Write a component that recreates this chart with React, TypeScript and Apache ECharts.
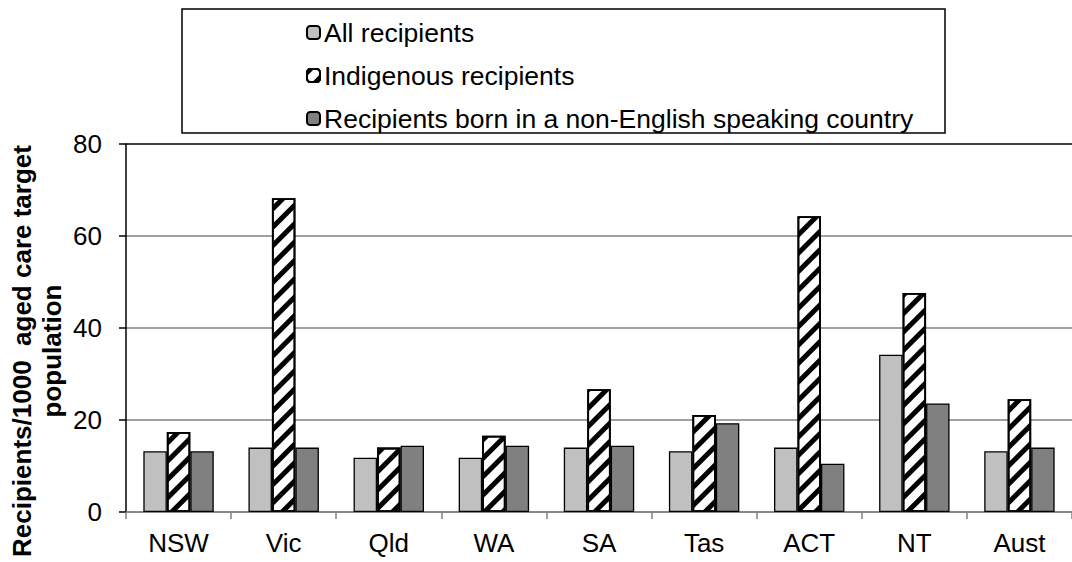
import React, { useEffect, useRef } from "react";
import * as echarts from "echarts";

const categories = ["NSW", "Vic", "Qld", "WA", "SA", "Tas", "ACT", "NT", "Aust"];
const allRecipients = [13.2, 14.0, 11.8, 11.8, 14.0, 13.2, 14.0, 34.2, 13.2];
const indigenousRecipients = [17.4, 68.2, 14.0, 16.6, 26.7, 21.1, 64.3, 47.6, 24.5];
const nesbRecipients = [13.2, 14.0, 14.4, 14.4, 14.4, 19.3, 10.5, 23.6, 14.0];
const seriesNames = [
  "All recipients",
  "Indigenous recipients",
  "Recipients born in a non-English speaking country",
];
const yTicks = [0, 20, 40, 60, 80];
const yTitle = "Recipients/1000  aged care target\npopulation";

const FONT = "Liberation Sans, Arial, sans-serif";

export default function App() {
  const ref = useRef<HTMLDivElement>(null);
  useEffect(() => {
    if (!ref.current) return;
    const chart = echarts.init(ref.current, undefined, { renderer: "svg" });
    const hatch = {
      symbol: "rect",
      symbolSize: 1,
      color: "#000000",
      backgroundColor: "#ffffff",
      dashArrayX: [1, 0],
      dashArrayY: [5, 8],
      rotation: -Math.PI / 4,
    };
    chart.setOption({
      animation: false,
      textStyle: { fontFamily: FONT },
      grid: { left: 126, top: 144, bottom: 50, right: -7, containLabel: false },
      legend: {
        orient: "vertical",
        left: 306,
        top: 19,
        itemWidth: 13,
        itemHeight: 13,
        itemGap: 16,
        padding: 0,
        textStyle: { fontSize: 26.5, color: "#000", fontFamily: FONT, padding: [0, 0, 0, -1] },
        data: seriesNames,
      },
      graphic: [
        {
          type: "rect",
          shape: { x: 182, y: 9, width: 763, height: 124 },
          style: { fill: "#fff", stroke: "#000", lineWidth: 1.5 },
          z: -1,
          silent: true,
        },
        {
          type: "text",
          x: 37,
          y: 351,
          rotation: Math.PI / 2,
          style: {
            text: yTitle,
            font: `bold 26px ${FONT}`,
            fill: "#000",
            align: "center",
            verticalAlign: "middle",
            lineHeight: 30,
          },
        },
      ],
      xAxis: {
        type: "category",
        data: categories,
        axisLine: { lineStyle: { color: "#808080", width: 1.5 } },
        axisTick: { show: true, length: 7, lineStyle: { color: "#808080", width: 1.5 } },
        axisLabel: { fontSize: 26, color: "#000", margin: 18, fontFamily: FONT },
      },
      yAxis: {
        type: "value",
        min: yTicks[0],
        max: yTicks[yTicks.length - 1],
        interval: 20,
        axisLine: { show: true, lineStyle: { color: "#000", width: 1.5 } },
        axisTick: { show: true, length: 7, lineStyle: { color: "#000", width: 1.5 } },
        axisLabel: { fontSize: 26, color: "#000", margin: 24, fontFamily: FONT },
        splitLine: {
          lineStyle: { color: ["#808080", "#808080", "#808080", "#808080", "#000000"], width: 1.5 },
        },
      },
      series: [
        {
          name: seriesNames[0],
          type: "bar",
          data: allRecipients,
          barGap: "0%",
          barCategoryGap: "33%",
          itemStyle: { color: "#c0c0c0", borderColor: "#000", borderWidth: 1.3 },
        },
        {
          name: seriesNames[1],
          type: "bar",
          data: indigenousRecipients,
          itemStyle: { color: "#ffffff", borderColor: "#000", borderWidth: 1.8, decal: hatch },
        },
        {
          name: seriesNames[2],
          type: "bar",
          data: nesbRecipients,
          itemStyle: { color: "#808080", borderColor: "#000", borderWidth: 1.3 },
        },
      ],
    });
    return () => chart.dispose();
  }, []);
  return (
    <div
      ref={ref}
      style={{ position: "fixed", left: 0, top: 0, width: 1072, height: 562, background: "#fff" }}
    />
  );
}
